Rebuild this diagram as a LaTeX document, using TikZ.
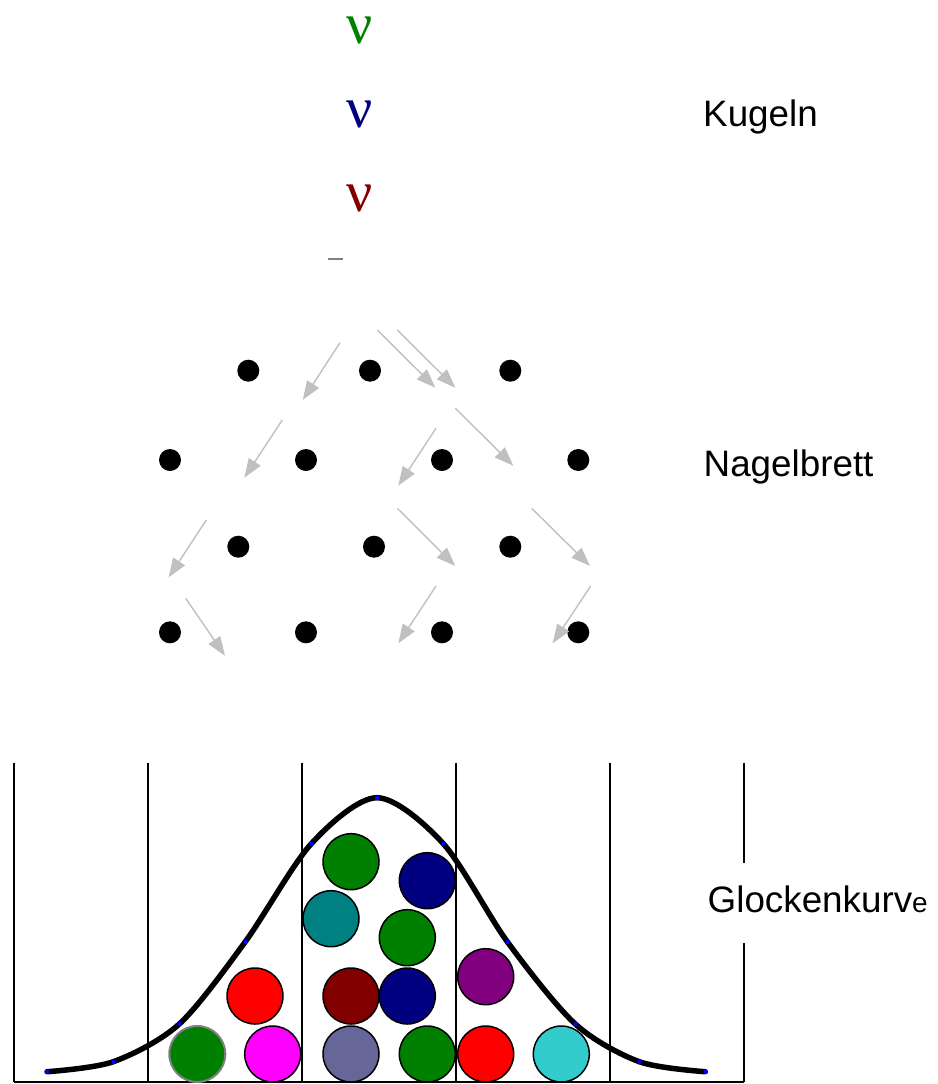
\documentclass[tikz,border=0pt]{standalone}
\usepackage{fontspec}
\setmainfont{Liberation Sans}
\newfontfamily\nufont{Liberation Serif}
\usetikzlibrary{arrows.meta}
\definecolor{slateball}{RGB}{102,102,153}
\definecolor{cyanball}{RGB}{51,204,204}
\definecolor{pathgray}{RGB}{192,192,192}
\definecolor{dashgray}{RGB}{128,128,128}
\definecolor{greenball}{RGB}{0,128,0}
\definecolor{navyball}{RGB}{0,0,128}
\definecolor{maroonball}{RGB}{128,0,0}
\definecolor{tealball}{RGB}{0,128,128}
\definecolor{purpleball}{RGB}{128,0,128}
\definecolor{magentaball}{RGB}{255,0,255}
\definecolor{redball}{RGB}{255,0,0}
\definecolor{samplemark}{RGB}{0,0,255}
\tikzset{
  peg/.style={circle, fill=black, inner sep=0pt, minimum size=22pt},
  path arrow/.style={draw=pathgray, line width=1.4pt, -{Triangle[length=19pt,width=14pt]}},
  ball/.style={circle, draw=black, line width=1.5pt, fill=#1, inner sep=0pt, minimum size=56pt},
  wall/.style={line width=1.8pt, draw=black},
  label/.style={font=\fontsize{36.8}{40}\selectfont, anchor=base west, inner sep=0pt},
  nu/.style={font=\nufont\fontsize{58}{60}\selectfont, anchor=base, inner sep=0pt, text height=28pt},
  sample/.style={rectangle, fill=samplemark, inner sep=0pt, minimum size=3.6pt}
}
\begin{document}
\begin{tikzpicture}[x=1pt, y=-1pt]
\useasboundingbox (0,0) rectangle (937,1084);

% falling balls
\node[nu, text=greenball] (nuA) at (360,43.5) {ν};
\node[nu, text=navyball] (nuB) at (360,127) {ν};
\node[nu, text=maroonball] (nuC) at (360,211.5) {ν};
\draw[draw=dashgray, line width=2pt] (328,259) -- (343,259);

% labels
\node[label] (kugeln) at (703,126.7) {Kugeln};
\node[label] (nagel) at (703.5,476) {Nagelbrett};
\node[label] (glocke) at (707.5,912.7) {Glockenkurv{\fontsize{28}{30}\selectfont e}};

% pegs of the board
\foreach \x [count=\i] in {248.3,370,510.3} \node[peg] (p1\i) at (\x,370.7) {};
\foreach \x [count=\i] in {170,306,442,578.3} \node[peg] (p2\i) at (\x,460) {};
\foreach \x [count=\i] in {238.3,374,510.3} \node[peg] (p3\i) at (\x,546.7) {};
\foreach \x [count=\i] in {170,306,442,578.3} \node[peg] (p4\i) at (\x,632.3) {};

% paths of the balls through the board
\draw[path arrow] (340,342.7) -- (302.7,400);
\draw[path arrow] (377.3,330) -- (435.3,387.7);
\draw[path arrow] (397.3,330) -- (455.3,387.7);
\draw[path arrow] (282.3,420) -- (244.3,477.7);
\draw[path arrow] (455.3,408.3) -- (513.3,465.7);
\draw[path arrow] (436,428.3) -- (398.3,485.7);
\draw[path arrow] (206.3,520) -- (168.7,577.3);
\draw[path arrow] (397.3,508.3) -- (455.3,566);
\draw[path arrow] (531.7,508.3) -- (590,566);
\draw[path arrow] (185.7,598.3) -- (225,655.7);
\draw[path arrow] (436,586) -- (398.3,643.3);
\draw[path arrow] (590.7,586) -- (552.7,643.3);

% bins
\foreach \x in {14,147.7,302,456,610}
  \draw[wall] (\x,762.7) -- (\x,1082.3);
\draw[wall] (744,762.7) -- (744,863);
\draw[wall] (744,943) -- (744,1082.3);
\draw[wall] (14,1082.3) -- (744,1082.3);

% collected balls
\node[ball=greenball, draw=dashgray, line width=2pt] (b1) at (197.3,1054) {};
\node[ball=magentaball] (b2) at (272.7,1054) {};
\node[ball=redball] (b3) at (255,996) {};
\node[ball=slateball] (b4) at (351,1054) {};
\node[ball=maroonball] (b5) at (351,996) {};
\node[ball=tealball] (b6) at (331,918.7) {};
\node[ball=greenball] (b7) at (351,861.7) {};
\node[ball=navyball] (b8) at (427.3,880.7) {};
\node[ball=greenball] (b9) at (407.3,937.7) {};
\node[ball=navyball] (b10) at (407.3,996) {};
\node[ball=greenball] (b11) at (427.3,1054) {};
\node[ball=purpleball] (b12) at (485.7,976.7) {};
\node[ball=redball] (b13) at (485.7,1054) {};
\node[ball=cyanball] (b14) at (561.3,1054) {};

% bell curve through the sampled points
\draw[line width=5.5pt, line join=round, line cap=round]
  plot[smooth, tension=0.5] coordinates {
    (47,1071.7) (113.3,1061.7) (179.3,1024) (245.3,941.7) (311.3,843.7)
    (377,797.7) (443.3,843.7) (507.3,941.7) (575.3,1024) (639.3,1061.7) (705.3,1071.7)};
\foreach \x/\y [count=\i] in {47/1071.7,113.3/1061.7,179.3/1024,245.3/941.7,311.3/843.7,
    377/797.7,443.3/843.7,507.3/941.7,575.3/1024,639.3/1061.7,705.3/1071.7}
  \node[sample] (s\i) at (\x,\y) {};
\end{tikzpicture}
\end{document}
